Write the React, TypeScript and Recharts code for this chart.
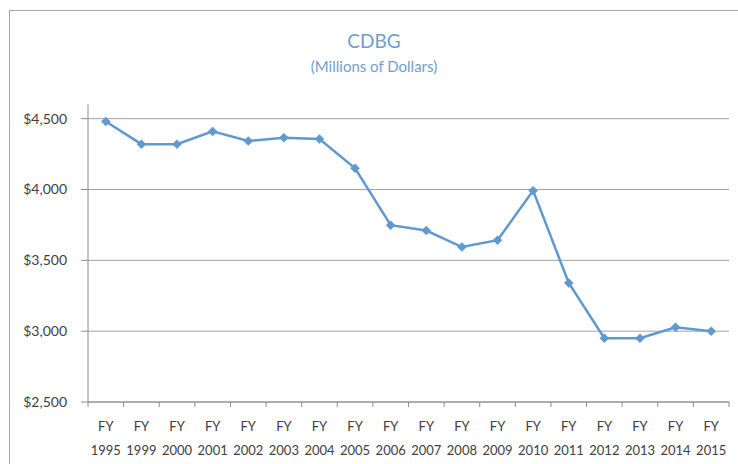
import React from 'react';
import { LineChart, Line, XAxis, YAxis, CartesianGrid } from 'recharts';

const YEARS = [
  '1995', '1999', '2000', '2001', '2002', '2003', '2004', '2005', '2006',
  '2007', '2008', '2009', '2010', '2011', '2012', '2013', '2014', '2015',
];
const CDBG = [
  4480, 4320, 4320, 4410, 4342, 4366, 4356, 4150, 3748,
  3710, 3594, 3642, 3992, 3340, 2950, 2950, 3028, 3000,
];
const Y_TICKS = [2500, 3000, 3500, 4000, 4500];

const data = YEARS.map((y, i) => ({ year: 'FY ' + y, value: CDBG[i] }));

const W = 738;
const H = 464;
const LEFT = 88;
const RIGHT = 9;
const STEP = (W - LEFT - RIGHT) / YEARS.length;
const FONT = 'Lato, "Open Sans", sans-serif';
const AXIS = '#8c8c8c';
const TEXT = '#404040';
const BLUE = '#5f99cf';

const Diamond = (props: any) => {
  const { cx, cy } = props;
  if (cx == null || cy == null) return null;
  const r = 4.5;
  return (
    <polygon
      points={`${cx},${cy - r} ${cx + r},${cy} ${cx},${cy + r} ${cx - r},${cy}`}
      fill={BLUE}
      stroke={BLUE}
      strokeWidth={0.5}
    />
  );
};

const YearTick = (props: any) => {
  const { x, y, payload, index } = props;
  const [fy, yr] = String(payload.value).split(' ');
  return (
    <g>
      <line x1={x - STEP / 2} y1={y} x2={x - STEP / 2} y2={y + 5} stroke={AXIS} />
      {index === YEARS.length - 1 && (
        <line x1={x + STEP / 2} y1={y} x2={x + STEP / 2} y2={y + 5} stroke={AXIS} />
      )}
      <text x={x} y={y + 29} textAnchor="middle" fill={TEXT} fontSize={13} fontFamily={FONT}>
        {fy}
      </text>
      <text x={x} y={y + 53} textAnchor="middle" fill={TEXT} fontSize={13} fontFamily={FONT}>
        {yr}
      </text>
    </g>
  );
};

export default function App() {
  return (
    <div style={{ position: 'absolute', left: 0, top: 0, width: W, height: H, overflow: 'hidden', background: '#fff' }}>
      {/* chart frame, only top and left edges fall inside the picture */}
      <div
        style={{
          position: 'absolute',
          left: 9,
          top: 10,
          width: W,
          height: H,
          border: '1px solid #a8a8a8',
        }}
      />
      <div
        style={{
          position: 'absolute',
          left: 374,
          top: 28,
          transform: 'translateX(-50%)',
          textAlign: 'center',
          color: '#6e9fcf',
          fontFamily: FONT,
          whiteSpace: 'nowrap',
        }}
      >
        <div style={{ fontSize: 19, lineHeight: '26px' }}>CDBG</div>
        <div style={{ fontSize: 15, lineHeight: '24px' }}>(Millions of Dollars)</div>
      </div>
      <div style={{ position: 'absolute', left: 0, top: 0 }}>
        <LineChart
          width={W}
          height={H}
          data={data}
          margin={{ top: 104.5, right: RIGHT, left: 0, bottom: 0 }}
        >
          <CartesianGrid vertical={false} stroke="#a0a0a0" horizontalValues={Y_TICKS} />
          <XAxis
            dataKey="year"
            scale="band"
            interval={0}
            height={62}
            tickLine={false}
            tickSize={0}
            tickMargin={0}
            stroke={AXIS}
            tick={<YearTick />}
          />
          <YAxis
            domain={[2500, 4600]}
            ticks={Y_TICKS}
            width={LEFT}
            stroke={AXIS}
            tickSize={7}
            tickMargin={14}
            tick={{ fill: TEXT, fontSize: 14, fontFamily: FONT }}
            tickFormatter={(v: number) => '$' + v.toLocaleString('en-US')}
          />
          <Line
            type="linear"
            dataKey="value"
            stroke={BLUE}
            strokeWidth={2.5}
            dot={<Diamond />}
            activeDot={false}
            isAnimationActive={false}
          />
        </LineChart>
      </div>
    </div>
  );
}
